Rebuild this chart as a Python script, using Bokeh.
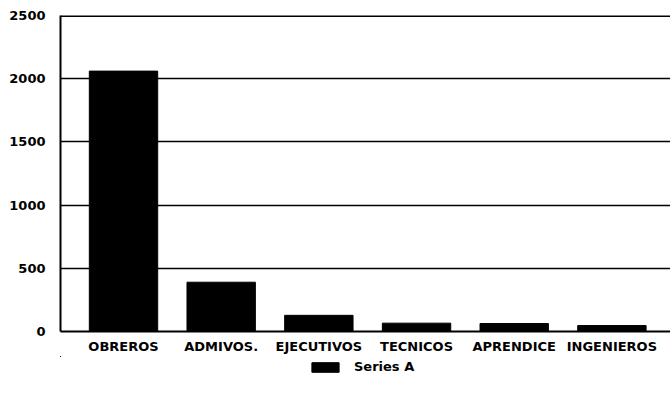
from bokeh.plotting import figure
from bokeh.layouts import column
from bokeh.models import ColumnDataSource, Range1d, FixedTicker, Legend, LegendItem, Span
from bokeh.embed import file_html
from bokeh.resources import INLINE

categories = ["OBREROS", "ADMIVOS.", "EJECUTIVOS", "TECNICOS", "APRENDICE", "INGENIEROS"]
values = [2060, 390, 128, 66, 63, 47]
y_ticks = [0, 500, 1000, 1500, 2000, 2500]
series_name = "Series A"

FONT = "DejaVu Sans"

xs = list(range(len(categories)))
src = ColumnDataSource(dict(x=xs, top=values, name=categories))

p = figure(width=670, height=356, output_backend="svg", toolbar_location=None,
           x_range=Range1d(-0.645, 5.6), y_range=Range1d(0, 2500),
           min_border_left=60, min_border_right=0, min_border_top=15, min_border_bottom=25)
p.outline_line_color = None
p.background_fill_color = "white"
p.border_fill_color = "white"

r = p.vbar(x="x", top="top", width=0.70, source=src, fill_color="black", line_color="black")

# axes
p.xaxis.ticker = FixedTicker(ticks=xs)
p.xaxis.major_label_overrides = {i: c for i, c in enumerate(categories)}
p.xaxis.major_tick_in = 0
p.xaxis.major_tick_out = 0
p.xaxis.minor_tick_line_color = None
p.xaxis.axis_line_width = 2
p.xaxis.axis_line_color = "black"
p.xaxis.major_label_text_font = FONT
p.xaxis.major_label_text_font_style = "bold"
p.xaxis.major_label_text_font_size = "13px"
p.xaxis.major_label_text_color = "black"
p.xaxis.major_label_standoff = 7

p.yaxis.ticker = FixedTicker(ticks=y_ticks)
p.yaxis.major_tick_in = 0
p.yaxis.major_tick_out = 0
p.yaxis.minor_tick_line_color = None
p.yaxis.axis_line_width = 2
p.yaxis.axis_line_color = "black"
p.yaxis.major_label_text_font = FONT
p.yaxis.major_label_text_font_style = "bold"
p.yaxis.major_label_text_font_size = "13px"
p.yaxis.major_label_text_color = "black"
p.yaxis.major_label_standoff = 15

p.xgrid.grid_line_color = None
p.ygrid.ticker = FixedTicker(ticks=y_ticks)
p.ygrid.grid_line_color = "black"
p.ygrid.grid_line_width = 1.5
p.ygrid.grid_line_alpha = 1.0

p.add_layout(Span(location=2500, dimension="width", line_color="black", line_width=3))

# legend strip below the chart (series drawn far out of view; only its legend swatch shows)
p2 = figure(width=670, height=44, output_backend="svg", toolbar_location=None,
            x_axis_location=None, y_axis_location=None,
            min_border_left=0, min_border_right=0, min_border_top=0, min_border_bottom=0,
            x_range=Range1d(100, 101), y_range=Range1d(-200000, -199999))
p2.grid.grid_line_color = None
p2.outline_line_color = None
p2.border_fill_color = "white"
p2.background_fill_color = "white"
swatch = p2.vbar(x="x", top="top", width=0.70, source=src, fill_color="black", line_color="black")

legend = Legend(items=[LegendItem(label=series_name, renderers=[swatch])],
                location=(248, 26), orientation="horizontal",
                glyph_width=34, glyph_height=12, label_standoff=12,
                label_text_font=FONT, label_text_font_style="bold",
                label_text_font_size="13px", label_text_color="black",
                border_line_color=None, background_fill_alpha=0, margin=0, padding=2)
p2.add_layout(legend, "center")

layout = column(p, p2, spacing=0)
open("out.html", "w").write(file_html(layout, INLINE))
